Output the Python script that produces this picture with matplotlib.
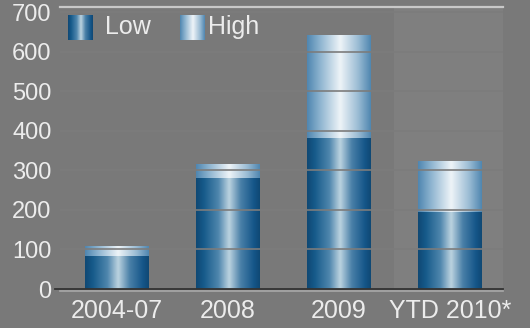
import numpy as np
import matplotlib
matplotlib.use('Agg')
import matplotlib.pyplot as plt
from matplotlib.colors import LinearSegmentedColormap

periods = ['2004-07', '2008', '2009', 'YTD 2010*']
low = [83, 280, 381, 194]
high = [23, 33, 260, 127]
yticks = [0, 100, 200, 300, 400, 500, 600, 700]

BG = '#797979'
TXT = '#ececec'
plt.rcParams['font.family'] = ['Liberation Sans', 'DejaVu Sans']

cmap_low = LinearSegmentedColormap.from_list(
    'low', [(0, '#0f4874'), (0.12, '#165a8a'), (0.35, '#4f86ad'),
            (0.52, '#bcd3e0'), (0.7, '#4a80a8'), (0.9, '#16578a'), (1, '#0f4874')])
cmap_high = LinearSegmentedColormap.from_list(
    'high', [(0, '#4f86b0'), (0.2, '#8cb3cf'), (0.52, '#eef4f8'),
             (0.8, '#9bbcd4'), (1, '#4f86b0')])


def gradient_bars(ax, bars, cmap):
    grad = np.linspace(0, 1, 256).reshape(1, -1)
    for p in bars:
        x0, y0 = p.get_x(), p.get_y()
        ax.imshow(grad, cmap=cmap, aspect='auto', interpolation='bicubic', zorder=2,
                  extent=(x0, x0 + p.get_width(), y0, y0 + p.get_height()))


fig = plt.figure(figsize=(5.3, 3.28), dpi=100)
fig.patch.set_facecolor(BG)
ax = fig.add_axes([60 / 530, 1 - 289 / 328, 443 / 530, 282 / 328])
ax.set_facecolor(BG)

x = np.arange(len(periods))
b1 = ax.bar(x, low, width=0.57, color='none', zorder=2)
b2 = ax.bar(x, high, bottom=low, width=0.57, color='none', zorder=2)
gradient_bars(ax, b1, cmap_low)
gradient_bars(ax, b2, cmap_high)

ax.set_xlim(-0.51, 3.48)
ax.set_ylim(0, 713)

# shaded YTD column
ax.axvspan(2.5, 3.48, color='#7f7f7f', zorder=0, lw=0)

# grid lines: nearly invisible on the background, show on the bars
for v in yticks[1:]:
    ax.axhline(v, color='#7c7c7c', lw=1.2, zorder=3)

ax.axhline(0, xmin=-0.012, color='#333333', lw=1.3, zorder=4, clip_on=False)
ax.axhline(-4, color='#a9a9a9', lw=1.2, zorder=4, clip_on=False)

for s in ['left', 'right', 'bottom']:
    ax.spines[s].set_visible(False)
ax.spines['top'].set_color('#c8c8c8')
ax.spines['top'].set_linewidth(1.6)

ax.set_yticks(yticks)
ax.set_xticks(x)
ax.set_xticklabels(periods)
ax.tick_params(axis='y', length=0, pad=6, labelsize=17, labelcolor=TXT)
ax.tick_params(axis='x', length=0, pad=7, labelsize=18, labelcolor=TXT)

# legend with gradient swatches
for x0, cmap, name, tx in [(0.018, cmap_low, 'Low', 0.102), (0.271, cmap_high, 'High', 0.334)]:
    sw = ax.inset_axes([x0, 0.883, 0.056, 0.089])
    sw.imshow(np.linspace(0, 1, 256).reshape(1, -1), cmap=cmap, aspect='auto')
    sw.axis('off')
    ax.text(tx, 0.929, name, transform=ax.transAxes, fontsize=18, color=TXT,
            va='center', ha='left')

fig.savefig('out.png', dpi=100, facecolor=BG)
